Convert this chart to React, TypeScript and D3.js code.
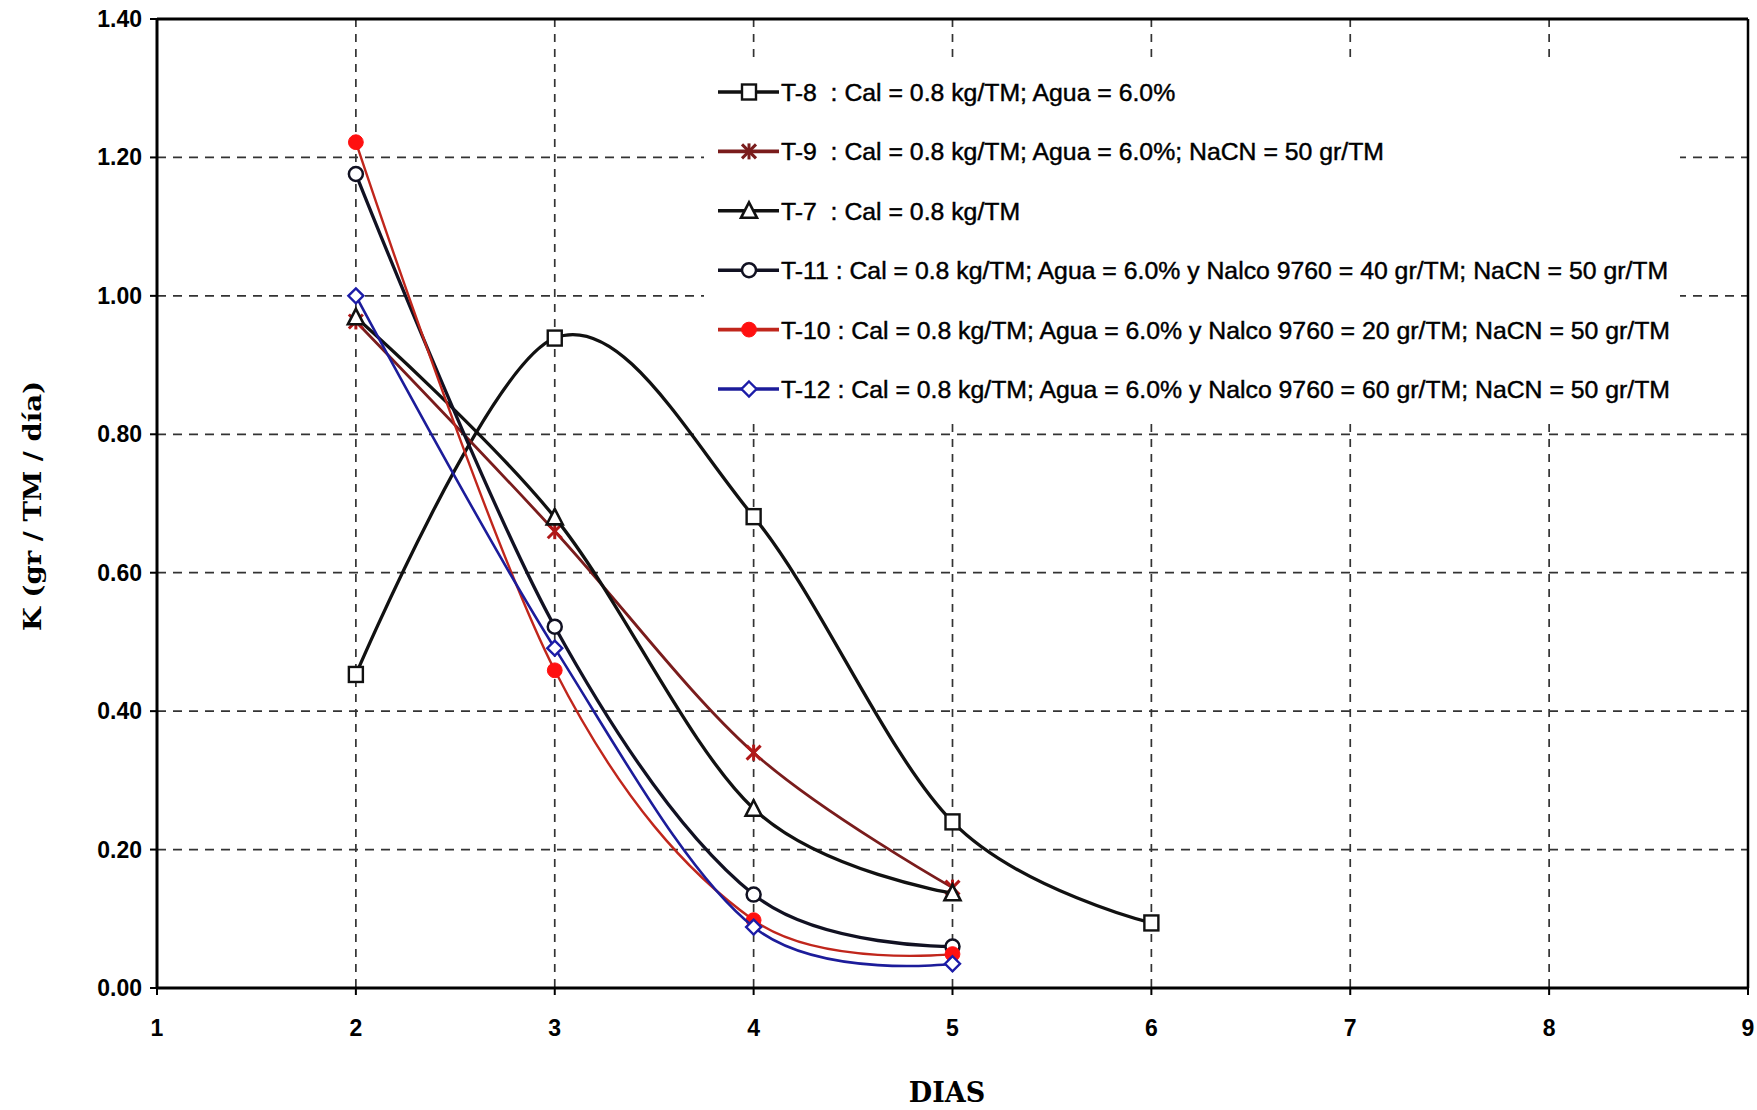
import React from "react";
import * as d3 from "d3";

const xTickValues = [1, 2, 3, 4, 5, 6, 7, 8, 9];
const yTickValues = [0, 0.2, 0.4, 0.6, 0.8, 1.0, 1.2, 1.4];
const daysT8 = [2, 3, 4, 5, 6];
const daysRest = [2, 3, 4, 5];
const valT8 = [0.453, 0.939, 0.681, 0.240, 0.094];
const valT9 = [0.963, 0.660, 0.340, 0.145];
const valT7 = [0.969, 0.680, 0.259, 0.137];
const valT11 = [1.176, 0.522, 0.135, 0.060];
const valT10 = [1.222, 0.459, 0.098, 0.049];
const valT12 = [1.000, 0.491, 0.088, 0.035];
const seriesNames = ["T-8", "T-9", "T-7", "T-11", "T-10", "T-12"];
const legendLabels = [
  "T-8  : Cal = 0.8 kg/TM; Agua = 6.0%",
  "T-9  : Cal = 0.8 kg/TM; Agua = 6.0%; NaCN = 50 gr/TM",
  "T-7  : Cal = 0.8 kg/TM",
  "T-11 : Cal = 0.8 kg/TM; Agua = 6.0% y Nalco 9760 = 40 gr/TM; NaCN = 50 gr/TM",
  "T-10 : Cal = 0.8 kg/TM; Agua = 6.0% y Nalco 9760 = 20 gr/TM; NaCN = 50 gr/TM",
  "T-12 : Cal = 0.8 kg/TM; Agua = 6.0% y Nalco 9760 = 60 gr/TM; NaCN = 50 gr/TM",
];

type Marker = "square" | "star" | "triangle" | "circle" | "dot" | "diamond";
const series = [
  { name: seriesNames[0], days: daysT8, vals: valT8, color: "#111111", mColor: "#111111", marker: "square" as Marker, w: 3.3 },
  { name: seriesNames[1], days: daysRest, vals: valT9, color: "#7a1c1c", mColor: "#b01818", marker: "star" as Marker, w: 2.8 },
  { name: seriesNames[2], days: daysRest, vals: valT7, color: "#111111", mColor: "#111111", marker: "triangle" as Marker, w: 3.3 },
  { name: seriesNames[3], days: daysRest, vals: valT11, color: "#111122", mColor: "#111122", marker: "circle" as Marker, w: 3.3 },
  { name: seriesNames[4], days: daysRest, vals: valT10, color: "#c0261c", mColor: "#ff1010", marker: "dot" as Marker, w: 2.4 },
  { name: seriesNames[5], days: daysRest, vals: valT12, color: "#1c1c9a", mColor: "#1c1ca8", marker: "diamond" as Marker, w: 2.6 },
];

const L = 157, R = 1748, T = 19, B = 988;

function MarkerShape({ type, cx, cy, color }: { type: Marker; cx: number; cy: number; color: string }) {
  switch (type) {
    case "square":
      return <rect x={cx - 7} y={cy - 7.5} width={14} height={15} fill="#fff" stroke={color} strokeWidth={2.4} />;
    case "star":
      return (
        <g stroke={color} strokeWidth={3}>
          <line x1={cx - 7} y1={cy - 7} x2={cx + 7} y2={cy + 7} />
          <line x1={cx - 7} y1={cy + 7} x2={cx + 7} y2={cy - 7} />
          <line x1={cx} y1={cy - 8} x2={cx} y2={cy + 8} />
        </g>
      );
    case "triangle":
      return <path d={`M${cx},${cy - 8.5}L${cx + 8},${cy + 7}L${cx - 8},${cy + 7}Z`} fill="#fff" stroke={color} strokeWidth={2.6} />;
    case "circle":
      return <circle cx={cx} cy={cy} r={7} fill="#fff" stroke={color} strokeWidth={2.5} />;
    case "dot":
      return <circle cx={cx} cy={cy} r={7.4} fill={color} stroke={color} strokeWidth={1} />;
    case "diamond":
      return <path d={`M${cx},${cy - 7.5}L${cx + 7.5},${cy}L${cx},${cy + 7.5}L${cx - 7.5},${cy}Z`} fill="#fff" stroke={color} strokeWidth={2.4} />;
  }
  return null;
}

export default function App() {
  const x = d3.scaleLinear().domain([1, 9]).range([L, R]);
  const y = d3.scaleLinear().domain([0, 1.4]).range([B, T]);
  const line = d3
    .line<[number, number]>()
    .x((d) => x(d[0]))
    .y((d) => y(d[1]))
    .curve(d3.curveCardinal.tension(0));

  const legX = 704, legY = 64, legW = 976, legH = 356;
  const legRow0 = 92, legStep = 59.4;

  return (
    <svg width={1757} height={1110} style={{ position: "absolute", left: 0, top: 0, background: "#fff" }}>
      <rect x={0} y={0} width={1757} height={1110} fill="#fff" />
      {/* gridlines */}
      {xTickValues.slice(1, -1).map((v) => (
        <line key={"gx" + v} x1={x(v)} x2={x(v)} y1={T} y2={B} stroke="#333" strokeWidth={1.7} strokeDasharray="8,7" />
      ))}
      {yTickValues.slice(1, -1).map((v) => (
        <line key={"gy" + v} x1={L} x2={R} y1={y(v)} y2={y(v)} stroke="#333" strokeWidth={1.7} strokeDasharray="9,7" />
      ))}
      {/* legend background */}
      <rect x={legX} y={legY} width={legW} height={legH} fill="#fff" />
      {/* frame */}
      <line x1={L} x2={R} y1={T} y2={T} stroke="#000" strokeWidth={3} />
      <line x1={L} x2={R} y1={B} y2={B} stroke="#000" strokeWidth={3} />
      <line x1={L} x2={L} y1={T} y2={B} stroke="#000" strokeWidth={3} />
      <line x1={R} x2={R} y1={T} y2={B} stroke="#000" strokeWidth={2.5} />
      {/* ticks */}
      {yTickValues.map((v) => (
        <g key={"ty" + v}>
          <line x1={L - 7} x2={L} y1={y(v)} y2={y(v)} stroke="#000" strokeWidth={2} />
          <text x={142} y={y(v) + 8} textAnchor="end" fontFamily="Liberation Sans, Arial, sans-serif" fontWeight="bold" fontSize={23}>
            {d3.format(".2f")(v)}
          </text>
        </g>
      ))}
      {xTickValues.map((v) => (
        <g key={"tx" + v}>
          <line x1={x(v)} x2={x(v)} y1={B} y2={B + 7} stroke="#000" strokeWidth={2} />
          <text x={x(v)} y={1036} textAnchor="middle" fontFamily="Liberation Sans, Arial, sans-serif" fontWeight="bold" fontSize={23}>
            {v}
          </text>
        </g>
      ))}
      {/* axis titles */}
      <text
        transform="translate(41,506) rotate(-90)"
        textAnchor="middle"
        fontFamily="DejaVu Serif, serif"
        fontWeight="bold"
        fontSize={25}
        textLength={250}
        lengthAdjust="spacingAndGlyphs"
        style={{ whiteSpace: "pre" }}
      >
        K (gr / TM / día)
      </text>
      <text x={947} y={1102} textAnchor="middle" fontFamily="DejaVu Serif, serif" fontWeight="bold" fontSize={27}>
        DIAS
      </text>
      {/* series */}
      {series.map((s) => {
        const pts: [number, number][] = s.days.map((d, i) => [d, s.vals[i]]);
        return (
          <g key={s.name}>
            <path d={line(pts) || ""} fill="none" stroke={s.color} strokeWidth={s.w} />
            {pts.map((p, i) => (
              <MarkerShape key={i} type={s.marker} cx={x(p[0])} cy={y(p[1])} color={s.mColor} />
            ))}
          </g>
        );
      })}
      {/* legend */}
      {series.map((s, i) => {
        const ly = legRow0 + i * legStep;
        return (
          <g key={"leg" + s.name}>
            <line x1={718} x2={779} y1={ly} y2={ly} stroke={s.color} strokeWidth={3.6} />
            <MarkerShape type={s.marker} cx={749} cy={ly} color={i === 1 ? s.color : s.mColor} />
            <text
              x={781}
              y={ly + 9}
              fontFamily="Liberation Sans, Arial, sans-serif"
              fontSize={24.8}
              style={{ whiteSpace: "pre" }}
              stroke="#000"
              strokeWidth={0.45}
            >
              {legendLabels[i]}
            </text>
          </g>
        );
      })}
    </svg>
  );
}
